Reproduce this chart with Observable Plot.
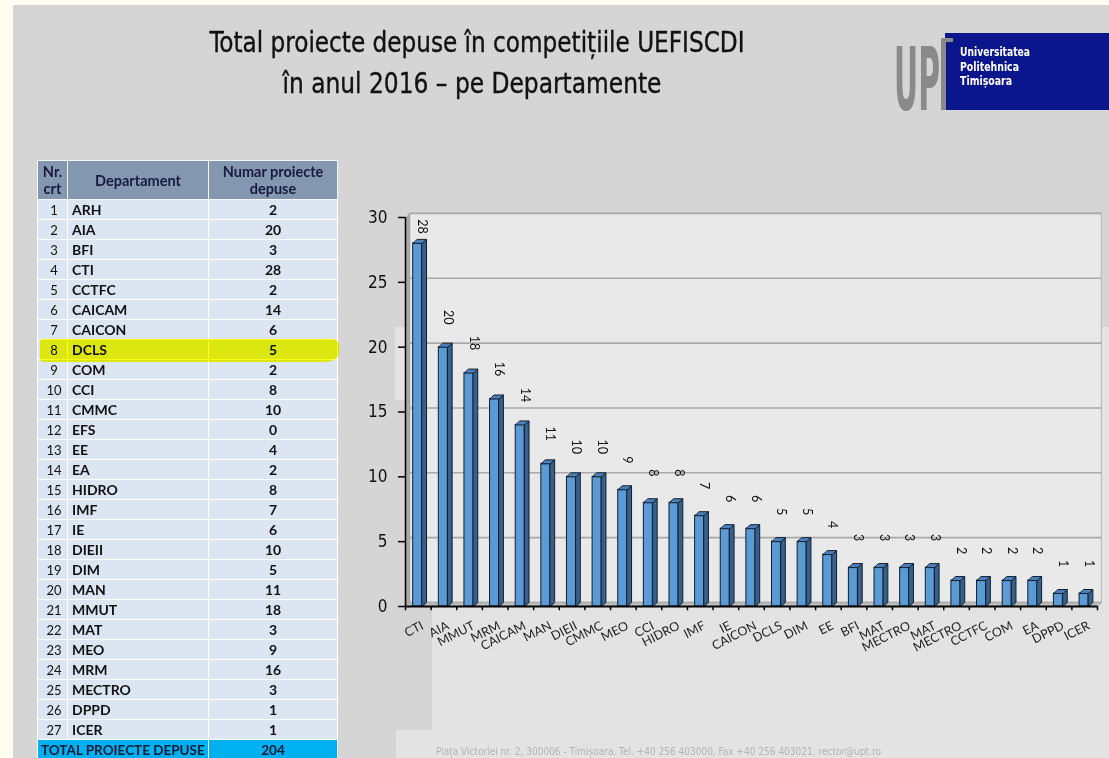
<!DOCTYPE html>
<html>
<head>
<meta charset="utf-8">
<script src="https://cdn.jsdelivr.net/npm/d3@7"></script>
<script src="https://cdn.jsdelivr.net/npm/@observablehq/plot@0.6"></script>
<style>
html,body{margin:0;padding:0;}
body{width:1109px;height:758px;overflow:hidden;background:#fdfdf0;position:relative;font-family:Lato,"Open Sans",sans-serif;}
#slide{position:absolute;left:13px;top:5px;right:0;bottom:0;background:#d5d5d5;}
.light{position:absolute;background:#e3e3e3;}
#head{position:absolute;left:0;top:0;}
#tbl{position:absolute;left:37px;top:160px;width:300px;border-collapse:collapse;table-layout:fixed;}
#tbl th{background:#8497b0;height:38px;font-weight:bold;font-size:14.5px;line-height:17px;color:#1a1a3c;border:1px solid #f4f6fa;padding:0;text-align:center;}
#tbl td{background:#dce6f2;border:1px solid #ffffff;padding:0;height:19px;line-height:18px;color:#111;white-space:nowrap;overflow:hidden;}
#tbl td.nr{text-align:center;font-size:13px;padding-left:3px;}
#tbl td.dep{font-weight:bold;font-size:14px;padding-left:4px;}
#tbl td.val{font-weight:bold;font-size:14px;text-align:center;}
#tbl tr.total td{background:#00b0f0;color:#0c1a33;font-weight:bold;font-size:13.5px;}
#hl{position:absolute;left:40px;top:339px;width:299px;height:23px;background:#ffff10;mix-blend-mode:multiply;border-radius:3px 6px 12px 4px / 3px 6px 10px 4px;}
#chart{position:absolute;left:350px;top:200px;}
#foot{position:absolute;left:436px;top:746px;font-size:10px;color:#b4b4b4;font-family:"DejaVu Sans Condensed",sans-serif;white-space:nowrap;}
</style>
</head>
<body>
<div id="slide"></div>
<div class="light" style="left:432px;top:327px;right:0;bottom:0;"></div>
<div class="light" style="left:395px;top:327px;width:40px;height:73px;"></div>
<div class="light" style="left:396px;top:730px;right:0;bottom:0;"></div>

<svg id="head" width="1109" height="130">
  <text x="477" y="52" text-anchor="middle" font-family="DejaVu Sans Condensed, sans-serif" font-size="29" fill="#111" stroke="#111" stroke-width="0.35" textLength="535" lengthAdjust="spacingAndGlyphs">Total proiecte depuse în competițiile UEFISCDI</text>
  <text x="472" y="93" text-anchor="middle" font-family="DejaVu Sans Condensed, sans-serif" font-size="29" fill="#111" stroke="#111" stroke-width="0.35" textLength="379" lengthAdjust="spacingAndGlyphs">în anul 2016 – pe Departamente</text>
  <rect x="945" y="33" width="164" height="77" fill="#0c168c"></rect>
  <text transform="translate(894,110) scale(1,2.4)" x="0" y="0" font-family="DejaVu Sans Condensed, sans-serif" font-weight="bold" font-size="36" fill="#8a8a8a" textLength="46" lengthAdjust="spacingAndGlyphs">UP</text>
  <rect x="941" y="38" width="5" height="72" fill="#8a8a8a"></rect>
  <rect x="941" y="38" width="12" height="4" fill="#8a8a8a"></rect>
  <text x="960" y="56" font-family="DejaVu Sans Condensed, sans-serif" font-weight="bold" font-size="12" fill="#fff" textLength="70" lengthAdjust="spacingAndGlyphs">Universitatea</text>
  <text x="960" y="70.5" font-family="DejaVu Sans Condensed, sans-serif" font-weight="bold" font-size="12" fill="#fff" textLength="59" lengthAdjust="spacingAndGlyphs">Politehnica</text>
  <text x="960" y="85" font-family="DejaVu Sans Condensed, sans-serif" font-weight="bold" font-size="12" fill="#fff" textLength="52" lengthAdjust="spacingAndGlyphs">Timișoara</text>
</svg>

<table id="tbl">
  <colgroup><col style="width:30px"><col style="width:141px"><col style="width:129px"></colgroup>
  <thead><tr><th>Nr.<br>crt</th><th>Departament</th><th>Numar proiecte<br>depuse</th></tr></thead>
  <tbody id="tb"></tbody>
</table>
<div id="hl"></div>
<div id="chart"></div>
<div id="foot">Piața Victoriei nr. 2, 300006 - Timișoara, Tel. +40 256 403000, Fax +40 256 403021, rector@upt.ro</div>

<script>
// ---- table data ----
const tableDepts = ["ARH","AIA","BFI","CTI","CCTFC","CAICAM","CAICON","DCLS","COM","CCI","CMMC","EFS","EE","EA","HIDRO","IMF","IE","DIEII","DIM","MAN","MMUT","MAT","MEO","MRM","MECTRO","DPPD","ICER"];
const tableValues = [2,20,3,28,2,14,6,5,2,8,10,0,4,2,8,7,6,10,5,11,18,3,9,16,3,1,1];
const totalLabel = "TOTAL PROIECTE DEPUSE";
const totalValue = 204;

// ---- chart data ----
const chartCategories = ["CTI","AIA","MMUT","MRM","CAICAM","MAN","DIEII","CMMC","MEO","CCI","HIDRO","IMF","IE","CAICON","DCLS","DIM","EE","BFI","MAT","MECTRO","MAT","MECTRO","CCTFC","COM","EA","DPPD","ICER"];
const chartValues = [28,20,18,16,14,11,10,10,9,8,8,7,6,6,5,5,4,3,3,3,3,2,2,2,2,1,1];
const yTicks = [0,5,10,15,20,25,30];

// build table
const tb = document.getElementById("tb");
tableDepts.forEach((d,i) => {
  const tr = document.createElement("tr");
  tr.innerHTML = `<td class="nr">${i+1}</td><td class="dep">${d}</td><td class="val">${tableValues[i]}</td>`;
  tb.appendChild(tr);
});
const trt = document.createElement("tr");
trt.className = "total";
trt.innerHTML = `<td colspan="2" style="padding-left:3px">${totalLabel}</td><td style="text-align:center">${totalValue}</td>`;
tb.appendChild(trt);

// build chart
const n = chartValues.length;
const yMax = d3.max(yTicks);
const bars = chartValues.map((v,i) => ({i, v, name: chartCategories[i]}));
const FX1 = 0.3, FX2 = 0.65, DX = 0.17, DY = 0.31;
const sideFaces = bars.flatMap(b => [
  {id:b.i, x:b.i+FX2, y:0},
  {id:b.i, x:b.i+FX2+DX, y:DY},
  {id:b.i, x:b.i+FX2+DX, y:b.v+DY},
  {id:b.i, x:b.i+FX2, y:b.v}
]);
const topFaces = bars.flatMap(b => [
  {id:b.i, x:b.i+FX1, y:b.v},
  {id:b.i, x:b.i+FX2, y:b.v},
  {id:b.i, x:b.i+FX2+DX, y:b.v+DY},
  {id:b.i, x:b.i+FX1+DX, y:b.v+DY}
]);
const leftWall = [{x:0,y:0},{x:0,y:yMax},{x:DX,y:yMax+DY},{x:DX,y:DY}];
const floor = [{x:0,y:0},{x:n,y:0},{x:n+DX,y:DY},{x:DX,y:DY}];

const plot = Plot.plot({
  width: 759, height: 460,
  marginLeft: 55, marginRight: 12, marginTop: 17, marginBottom: 54,
  x: {domain: [0, n], axis: null},
  y: {domain: [0, yMax], axis: null},
  style: {background: "transparent", overflow: "visible", fontFamily: "Lato, 'Open Sans', sans-serif", color: "#111"},
  marks: [
    Plot.rect([0], {x1: DX, x2: n+DX, y1: DY, y2: yMax+DY, fill: "#e9e9e9", stroke: "#bdbdbd", strokeWidth: 1.2}),
    Plot.ruleY(yTicks.filter(t => t > 0), {y: t => t + DY, x1: DX, x2: n + DX, stroke: "#a9a9a9", strokeWidth: 1.6}),
    Plot.line(leftWall, {x: "x", y: "y", fill: "#a9a9a9", stroke: "#9a9a9a", strokeWidth: 0.6, curve: "linear-closed"}),
    Plot.line(floor, {x: "x", y: "y", fill: "#bcbcbc", stroke: "#9a9a9a", strokeWidth: 0.6, curve: "linear-closed"}),
    Plot.rect(bars, {x1: d => d.i + FX1, x2: d => d.i + FX2, y1: 0, y2: "v", fill: "#5b9bd5", stroke: "#12202e", strokeWidth: 1}),
    Plot.line(sideFaces, {x: "x", y: "y", z: "id", fill: "#36618e", stroke: "#12202e", strokeWidth: 1, curve: "linear-closed"}),
    Plot.line(topFaces, {x: "x", y: "y", z: "id", fill: "#4a80bd", stroke: "#12202e", strokeWidth: 1, curve: "linear-closed"}),
    Plot.ruleX([0], {y1: 0, y2: yMax, stroke: "#000", strokeWidth: 1.5}),
    Plot.ruleY([0], {stroke: "#000", strokeWidth: 1.8}),
    Plot.ruleX(d3.range(n + 1), {y1: 0, y2: -0.33, stroke: "#000", strokeWidth: 1.5}),
    Plot.axisY(yTicks, {tickSize: 7, tickPadding: 11, fontSize: 17, fontFamily: "'DejaVu Sans Condensed', sans-serif", stroke: "#000", strokeWidth: 1.5, fill: "#111"}),
    Plot.text(bars, {x: d => d.i + 0.5, y: 0, text: "name", rotate: -27, textAnchor: "end", lineAnchor: "top", dy: 14, dx: 2, fontSize: 12.5, fill: "#222"}),
    Plot.text(bars, {x: d => d.i + 0.5, y: d => Math.min(d.v, 27), text: d => String(d.v), rotate: 90, dy: -30, dx: 4, fontSize: 12.5, fill: "#111"})
  ]
});
document.getElementById("chart").appendChild(plot);
</script>
</body>
</html>
